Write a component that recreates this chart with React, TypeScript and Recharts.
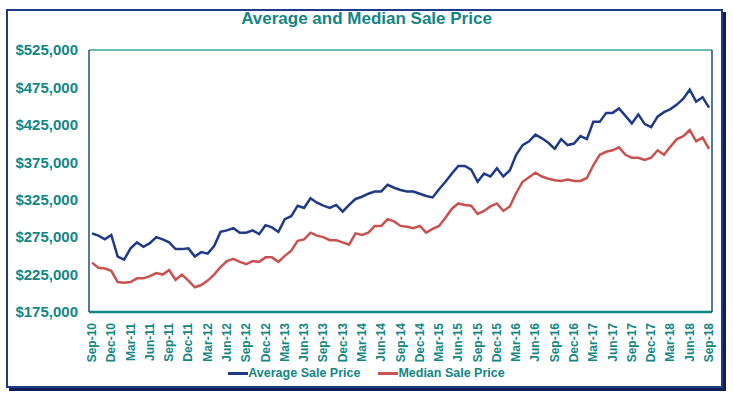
import { LineChart, Line, CartesianGrid, XAxis, YAxis } from "recharts";

const MONTHS = ["Jan", "Feb", "Mar", "Apr", "May", "Jun", "Jul", "Aug", "Sep", "Oct", "Nov", "Dec"];
const START_MONTH = 8; // Sep
const START_YEAR = 10;

const averagePrice = [
  280, 277, 272, 278, 249, 245, 260, 268, 262, 267, 275, 272, 268, 259, 259, 260,
  249, 255, 253, 263, 282, 284, 287, 281, 281, 284, 279, 291, 288, 282, 299, 303,
  317, 314, 327, 321, 317, 314, 318, 309, 318, 326, 329, 333, 336, 336, 345, 341,
  338, 336, 336, 333, 330, 328, 339, 349, 360, 370, 370, 365, 349, 360, 356, 367,
  356, 364, 385, 398, 403, 412, 407, 401, 393, 406, 398, 400, 410, 406, 429, 429,
  441, 441, 447, 437, 427, 439, 426, 422, 436, 442, 446, 452, 460, 472, 456, 462,
  448,
];

const medianPrice = [
  241, 234, 233, 230, 215, 214, 215, 220, 220, 223, 227, 225, 231, 218, 225, 217,
  208, 211, 217, 225, 235, 243, 246, 242, 239, 243, 242, 248, 248, 242, 250, 257,
  270, 272, 281, 277, 275, 271, 271, 268, 265, 280, 278, 281, 290, 290, 299, 296,
  290, 289, 287, 290, 281, 286, 290, 301, 313, 320, 318, 317, 306, 310, 316, 320,
  310, 316, 334, 349, 355, 361, 356, 353, 351, 350, 352, 350, 350, 354, 371, 385,
  389, 391, 395, 385, 381, 381, 378, 381, 391, 385, 396, 406, 410, 418, 403, 408,
  393,
];

const yTicks = [175000, 225000, 275000, 325000, 375000, 425000, 475000, 525000];

const TEAL = "#128683";
const GRID = "#3aa3a0";
const NAVY = "#1f3a86";
const RED = "#c9524f";
const FONT = "'Liberation Sans', Arial, sans-serif";

const data = averagePrice.map((avg, i) => {
  const m = START_MONTH + i;
  const label = `${MONTHS[m % 12]}-${START_YEAR + Math.floor(m / 12)}`;
  return { month: label, average: avg * 1000, median: medianPrice[i] * 1000 };
});

const fmt = (v: number) => "$" + v.toLocaleString("en-US");

function MonthTick({ x, y, payload }: any) {
  return (
    <text
      x={x}
      y={y}
      transform={`rotate(-90, ${x}, ${y})`}
      dx={-3}
      dy={4}
      textAnchor="end"
      fill={TEAL}
      fontSize={12}
      fontWeight="bold"
      fontFamily={FONT}
    >
      {payload.value}
    </text>
  );
}

export default function App() {
  return (
    <div style={{ position: "absolute", left: 0, top: 0, width: 733, height: 397, background: "#fff" }}>
      <div
        style={{
          position: "absolute",
          left: 6,
          top: 9,
          width: 713,
          height: 375,
          border: `2px solid ${NAVY}`,
          boxShadow: "3px 3px 0 #0d1f55",
        }}
      />
      <div
        style={{
          position: "absolute",
          left: 0,
          top: 9,
          width: 733,
          textAlign: "center",
          color: TEAL,
          fontFamily: FONT,
          fontWeight: "bold",
          fontSize: 17,
        }}
      >
        Average and Median Sale Price
      </div>
      <div style={{ position: "absolute", left: 0, top: 0 }}>
        <LineChart width={733} height={397} data={data} margin={{ top: 50, right: 0, left: 0, bottom: 25 }}>
          <CartesianGrid horizontal vertical={false} stroke={GRID} strokeWidth={1.5} />
          <XAxis
            dataKey="month"
            interval={2}
            padding={{ left: 3, right: 3 }}
            height={60}
            tick={<MonthTick />}
            tickLine={false}
            axisLine={{ stroke: TEAL, strokeWidth: 2.5 }}
          />
          <YAxis
            yAxisId="left"
            width={89}
            domain={[175000, 525000]}
            ticks={yTicks}
            tickFormatter={fmt}
            tickLine={false}
            tickSize={0}
            tickMargin={11}
            axisLine={{ stroke: "#1f4e79", strokeWidth: 1.5 }}
            tick={{ fill: TEAL, fontSize: 15, fontWeight: "bold", fontFamily: FONT }}
          />
          <YAxis
            yAxisId="right"
            orientation="right"
            width={21}
            domain={[175000, 525000]}
            tick={false}
            tickLine={false}
            axisLine={{ stroke: "#1f4e79", strokeWidth: 1.5 }}
          />
          <Line
            yAxisId="left"
            type="linear"
            dataKey="average"
            stroke={NAVY}
            strokeWidth={2.5}
            dot={false}
            isAnimationActive={false}
          />
          <Line
            yAxisId="left"
            type="linear"
            dataKey="median"
            stroke={RED}
            strokeWidth={2.5}
            dot={false}
            isAnimationActive={false}
          />
        </LineChart>
      </div>
      <div
        style={{
          position: "absolute",
          left: 0,
          top: 366,
          width: 733,
          display: "flex",
          justifyContent: "center",
          alignItems: "center",
          gap: 18,
          color: TEAL,
          fontFamily: FONT,
          fontWeight: "bold",
          fontSize: 12.5,
        }}
      >
        <span style={{ display: "flex", alignItems: "center" }}>
          <span style={{ display: "inline-block", width: 20, height: 3, background: NAVY }} />
          Average Sale Price
        </span>
        <span style={{ display: "flex", alignItems: "center" }}>
          <span style={{ display: "inline-block", width: 20, height: 3, background: RED }} />
          Median Sale Price
        </span>
      </div>
    </div>
  );
}
